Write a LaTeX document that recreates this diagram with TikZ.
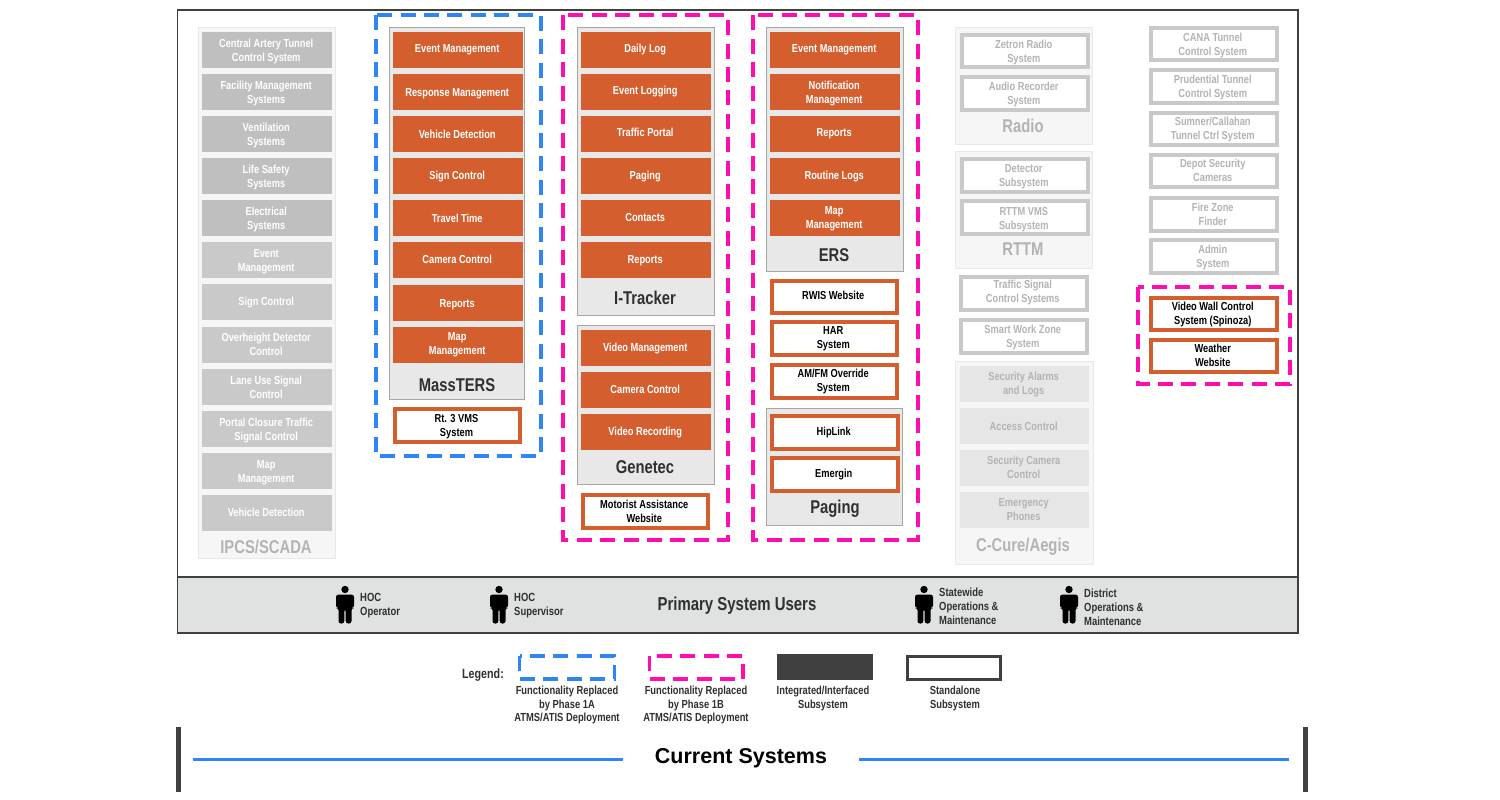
\documentclass[tikz,border=0pt]{standalone}
\usepackage{fontspec}
\setmainfont{Liberation Sans}[FakeStretch=0.8]
\newfontfamily\widefont{Liberation Sans}
\definecolor{org}{HTML}{D55E2E}
\definecolor{gA}{HTML}{BFBFBF}
\definecolor{gB}{HTML}{C9C9C9}
\definecolor{gC}{HTML}{E6E6E6}
\definecolor{gT}{HTML}{B3B3B3}
\definecolor{cont}{HTML}{E8E8E8}
\definecolor{pale}{HTML}{F6F6F6}
\definecolor{bandc}{HTML}{E0E2E1}
\definecolor{bluec}{HTML}{2E86F5}
\definecolor{pinkc}{HTML}{FF0DB0}
\definecolor{darkc}{HTML}{404040}
\definecolor{txt}{HTML}{303030}
\tikzset{
 bxbase/.style={anchor=north west,rectangle,inner sep=0pt,align=center,font=\fontsize{11.6}{14}\selectfont\bfseries},
 orangebox/.style={bxbase,fill=org,text=white},
 darkgrey/.style={bxbase,fill=gA,text=white},
 midgrey/.style={bxbase,fill=gB,text=white},
 palegrey/.style={bxbase,fill=gC,text=gT},
 standalonebox/.style={bxbase,fill=white,draw=org,line width=4pt,text=black},
 greybox/.style={bxbase,fill=white,draw=gB,line width=4pt,text=gT},
 strongcont/.style={bxbase,fill=cont,draw=black!35,line width=1pt},
 palecont/.style={bxbase,fill=pale,draw=black!9,line width=1pt},
 titlelab/.style={inner sep=0pt,font=\fontsize{18.5}{20}\selectfont\bfseries,text=txt},
 greytitle/.style={titlelab,text=gT},
 bluedash/.style={draw=bluec,line width=4pt,dash pattern=on 15pt off 8.4pt},
 pinkdash/.style={draw=pinkc,line width=4pt,dash pattern=on 15pt off 8.4pt},
 userlab/.style={anchor=west,inner sep=0pt,align=left,text=txt,font=\fontsize{11.8}{14}\selectfont\bfseries},
 legendcap/.style={anchor=north,inner sep=0pt,align=center,text=txt,font=\fontsize{11.7}{13.6}\selectfont\bfseries},
}
% \bx[text raise]{style}{name}{x,y}{w}{h}{text}
\newcommand\bx[7][0]{%
 \node[#2,minimum width=#5pt,minimum height=#6pt] (#3) at (#4) {};
 \node[#2,draw=none,fill=none,anchor=center] (#3t) at ([xshift=-1pt,yshift=#1pt]#3.center) {#7};}
\newcommand\personicon[2]{%
 \fill[black] (#1,#2-15.5) circle (3.7);
 \fill[black,rounded corners=2.5pt] (#1-9,#2-10.5) -- (#1+9,#2-10.5) -- (#1+9,#2+3) -- (#1+6.5,#2+3) -- (#1+6.5,#2+18.5) -- (#1+0.7,#2+18.5) -- (#1+0.7,#2+4) -- (#1-0.7,#2+4) -- (#1-0.7,#2+18.5) -- (#1-6.5,#2+18.5) -- (#1-6.5,#2+3) -- (#1-9,#2+3) -- cycle;
}
\begin{document}
\begin{tikzpicture}[x=1pt,y=-1pt]
\useasboundingbox (0,0) rectangle (1500,800);
\fill[white] (0,0) rectangle (1500,800);
% frame and band
\draw[line width=1.2pt,draw=darkc] (177.5,10) rectangle (1298,633);
\node[anchor=north west,fill=bandc,draw=darkc,line width=1.2pt,minimum width=1120.5pt,minimum height=56pt,inner sep=0pt,outer sep=0pt] (band) at (177.5,577) {};
% IPCS
\bx{palecont}{ipcs}{198,27}{137}{531}{}
\bx[-1.5]{darkgrey}{i1}{202,31.5}{130}{36}{Central Artery Tunnel\\Control System}
\bx[-1.5]{darkgrey}{i2}{202,73.5}{130}{36}{Facility Management\\Systems}
\bx[-1.5]{darkgrey}{i3}{202,115.5}{130}{36}{Ventilation\\Systems}
\bx[-1.5]{darkgrey}{i4}{202,157.5}{130}{36}{Life Safety\\Systems}
\bx[-1.5]{darkgrey}{i5}{202,199.5}{130}{36}{Electrical\\Systems}
\bx[-1.8]{midgrey}{i6}{202,241.5}{130}{36}{Event\\Management}
\bx{midgrey}{i7}{202,284}{130}{36}{Sign Control}
\bx{midgrey}{i8}{202,326.5}{130}{36}{Overheight Detector\\Control}
\bx[-.5]{midgrey}{i9}{202,368.5}{130}{36}{Lane Use Signal\\Control}
\bx[-1.5]{midgrey}{i10}{202,410.5}{130}{36}{Portal Closure Traffic\\Signal Control}
\bx[-1.5]{midgrey}{i11}{202,453}{130}{36}{Map\\Management}
\bx[1]{midgrey}{i12}{202,495}{130}{36}{Vehicle Detection}
\node[greytitle] (ipcst) at (266,547) {IPCS/SCADA};
% MassTERS
\bx{strongcont}{mt}{389,27}{135}{372}{}
\bx{orangebox}{m1}{393,32}{130}{36}{Event Management}
\bx[-2]{orangebox}{m2}{393,74}{130}{36}{Response Management}
\bx{orangebox}{m3}{393,116}{130}{36}{Vehicle Detection}
\bx{orangebox}{m4}{393,158}{130}{36}{Sign Control}
\bx{orangebox}{m5}{393,200}{130}{36}{Travel Time}
\bx[1]{orangebox}{m6}{393,242}{130}{36}{Camera Control}
\bx[-2]{orangebox}{m7}{393,285}{130}{36}{Reports}
\bx{orangebox}{m8}{393,327}{130}{36}{Map\\Management}
\node[titlelab] (mtt) at (457,385) {MassTERS};
\bx[-1]{standalonebox}{rt3}{393,407}{125}{32.5}{Rt. 3 VMS\\System}
\draw[bluedash] (375.5,15.5) rectangle (540.5,455.5);
% I-Tracker
\bx{strongcont}{it}{577,27}{137}{288}{}
\bx[.5]{orangebox}{t1}{581,32}{130}{36}{Daily Log}
\bx[1]{orangebox}{t2}{581,74}{130}{36}{Event Logging}
\bx[1.5]{orangebox}{t3}{581,116}{130}{36}{Traffic Portal}
\bx{orangebox}{t4}{581,158}{130}{36}{Paging}
\bx[.5]{orangebox}{t5}{581,200}{130}{36}{Contacts}
\bx[-.5]{orangebox}{t6}{581,242}{130}{36}{Reports}
\node[titlelab] (itt) at (645,298) {I-Tracker};
% Genetec
\bx{strongcont}{ge}{577,325}{137}{159}{}
\bx{orangebox}{g1}{581,330}{130}{36}{Video Management}
\bx[1]{orangebox}{g2}{581,372}{130}{36}{Camera Control}
\bx{orangebox}{g3}{581,414}{130}{36}{Video Recording}
\node[titlelab] (get) at (645,467) {Genetec};
\bx{standalonebox}{mot}{581,493}{124.5}{32.5}{Motorist Assistance\\Website}
\draw[pinkdash] (562.5,15.5) rectangle (727.5,539.5);
% ERS
\bx{strongcont}{er}{766,27}{137}{244}{}
\bx{orangebox}{e1}{770,32}{130}{36}{Event Management}
\bx[-1]{orangebox}{e2}{770,74}{130}{36}{Notification\\Management}
\bx{orangebox}{e3}{770,116}{130}{36}{Reports}
\bx{orangebox}{e4}{770,158}{130}{36}{Routine Logs}
\bx[-1]{orangebox}{e5}{770,200}{130}{36}{Map\\Management}
\node[titlelab] (ert) at (834,255) {ERS};
\bx[1]{standalonebox}{rwis}{770,279}{124.5}{31.5}{RWIS Website}
\bx[-.5]{standalonebox}{har}{770,320}{124.5}{32.5}{HAR\\System}
\bx{standalonebox}{amfm}{770,363}{124.5}{32.5}{AM/FM Override\\System}
\bx{strongcont}{pg}{766,408}{136}{117}{}
\bx{standalonebox}{hip}{770,414}{125.5}{32.5}{HipLink}
\bx{standalonebox}{emg}{770,456}{125.5}{32.5}{Emergin}
\node[titlelab] (pgt) at (835,509) {Paging};
\draw[pinkdash] (752.5,15.5) rectangle (917.5,539.5);
% Radio
\bx{palecont}{ra}{955,27}{137}{117}{}
\bx[-1]{greybox}{r1}{960,33}{125.5}{32.5}{Zetron Radio\\System}
\bx[-1]{greybox}{r2}{960,75}{125.5}{32.5}{Audio Recorder\\System}
\node[greytitle] (rat) at (1023,126) {Radio};
% RTTM
\bx{palecont}{rm}{955,151}{137}{117}{}
\bx[-1.5]{greybox}{q1}{960,157}{125.5}{32.5}{Detector\\Subsystem}
\bx[-2]{greybox}{q2}{960,199}{125.5}{32.5}{RTTM VMS\\Subsystem}
\node[greytitle] (rmt) at (1023,249) {RTTM};
\bx[1]{greybox}{ts}{959,275}{125.5}{32.5}{Traffic Signal\\Control Systems}
\bx[-1]{greybox}{sw}{959,318}{125.5}{32.5}{Smart Work Zone\\System}
% C-Cure
\bx{palecont}{cc}{955,361}{138}{203}{}
\bx{palegrey}{c1}{960,366}{129}{36}{Security Alarms\\and Logs}
\bx{palegrey}{c2}{960,408}{129}{36}{Access Control}
\bx[.5]{palegrey}{c3}{960,450}{129}{36}{Security Camera\\Control}
\bx[1]{palegrey}{c4}{960,492}{129}{36}{Emergency\\Phones}
\node[greytitle] (cct) at (1023,547) {C-Cure/Aegis};
% Right column
\bx[-1]{greybox}{x1}{1149,26}{125.5}{32.5}{CANA Tunnel\\Control System}
\bx[-1]{greybox}{x2}{1149,68}{125.5}{32.5}{Prudential Tunnel\\Control System}
\bx[-1]{greybox}{x3}{1149,111}{125.5}{31.5}{Sumner/Callahan\\Tunnel Ctrl System}
\bx{greybox}{x4}{1149,153}{125.5}{31.5}{Depot Security\\Cameras}
\bx{greybox}{x5}{1149,196}{125.5}{32.5}{Fire Zone\\Finder}
\bx[-1]{greybox}{x6}{1149,238}{125.5}{32.5}{Admin\\System}
\bx[-1]{standalonebox}{vw}{1149,296}{125.5}{31.5}{Video Wall Control\\System (Spinoza)}
\bx{standalonebox}{wx}{1149,338}{125.5}{31.5}{Weather\\Website}
\draw[pinkdash] (1138,287) rectangle (1289.5,384);
% Users
\node[inner sep=0pt,text=txt,font=\fontsize{18.7}{20}\selectfont\bfseries] (psu) at (737,606) {Primary System Users};
\personicon{345}{605}
\personicon{499}{605}
\personicon{924}{605}
\personicon{1069}{605}
\node[userlab] (u1) at (360,605.5) {HOC\\Operator};
\node[userlab] (u2) at (514,605.5) {HOC\\Supervisor};
\node[userlab] (u3) at (939,606) {Statewide\\Operations \&\\Maintenance};
\node[userlab] (u4) at (1084,607) {District\\Operations \&\\Maintenance};
% Legend
\node[inner sep=0pt,text=txt,font=\fontsize{13.4}{14}\selectfont\bfseries] (leg) at (483,675) {Legend:};
\draw[bluedash,line width=3.6pt] (519.5,656) rectangle (614.5,679);
\draw[pinkdash,line width=3.6pt] (649.5,656) rectangle (743,679);
\node[anchor=north west,fill=darkc,minimum width=96pt,minimum height=26pt,inner sep=0pt] (lg3) at (777,654) {};
\node[anchor=north west,fill=white,draw=darkc,line width=3.4pt,minimum width=93pt,minimum height=23pt,inner sep=0pt] (lg4) at (906,655) {};
\node[legendcap] (lc1) at (567,686) {Functionality Replaced\\by Phase 1A\\ATMS/ATIS Deployment};
\node[legendcap] (lc2) at (696,686) {Functionality Replaced\\by Phase 1B\\ATMS/ATIS Deployment};
\node[legendcap] (lc3) at (823,686) {Integrated/Interfaced\\Subsystem};
\node[legendcap] (lc4) at (955,686) {Standalone\\Subsystem};
% Footer
\node[inner sep=0pt,text=black,font=\widefont\fontsize{21.5}{26}\selectfont\bfseries] (cur) at (741,758) {Current Systems};
\coordinate (la) at (193,759); \coordinate (lb) at (623,759);
\coordinate (lc) at (859,759); \coordinate (ld) at (1289,759);
\draw[bluec,line width=3pt] (la) -- (lb);
\draw[bluec,line width=3pt] (lc) -- (ld);
\fill[darkc] (176,727) rectangle (181,792);
\fill[darkc] (1303,727) rectangle (1308,792);
\end{tikzpicture}
\end{document}
